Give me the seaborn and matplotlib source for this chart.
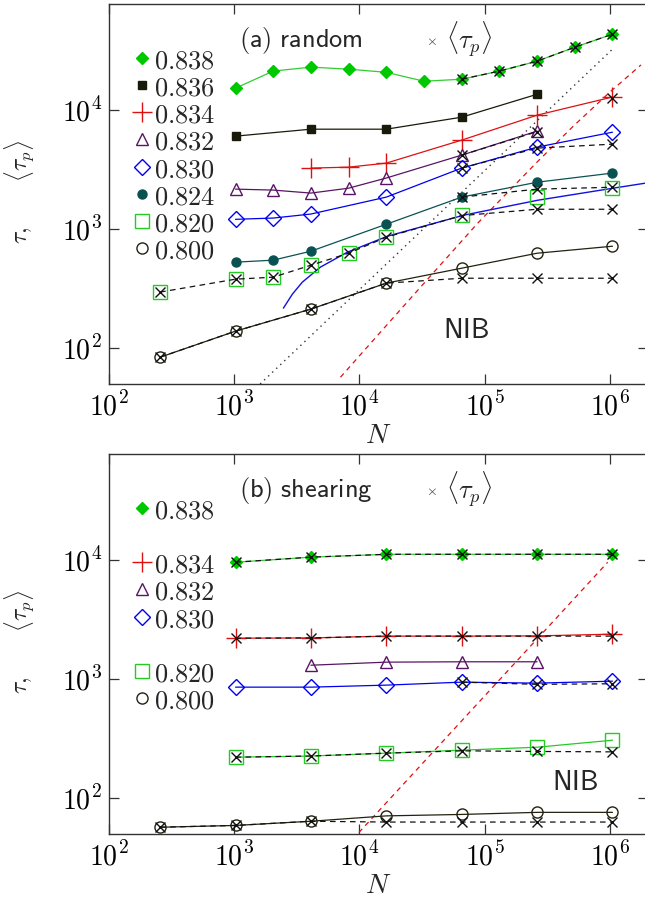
import numpy as np
import pandas as pd
import matplotlib
matplotlib.use('Agg')
import matplotlib.pyplot as plt
import seaborn as sns
from matplotlib.lines import Line2D
from matplotlib.ticker import LogLocator, NullLocator, FuncFormatter

sns.set_style('ticks')
plt.rcParams['mathtext.fontset'] = 'cm'
plt.rcParams['font.family'] = ['DejaVu Sans']

# ---------------- panel (a): random ----------------
a838_N = [1024, 2048, 4096, 8192, 16384, 32768, 65536, 131072, 262144, 524288, 1048576]
a838_t = [15300, 21300, 23000, 22100, 20800, 17500, 18200, 21300, 25800, 33800, 43500]
a838_pN = [65536, 131072, 262144, 524288, 1048576]
a838_p = [18200, 21300, 25800, 33800, 43500]

a836_N = [1024, 4096, 16384, 65536, 262144]
a836_t = [6050, 6920, 6920, 8730, 13600]

a834_N = [4096, 8192, 16384, 65536, 262144, 1048576]
a834_t = [3260, 3320, 3590, 5600, 9080, 12900]
a834_pN = [1048576]
a834_p = [12700]

a832_N = [1024, 2048, 4096, 8192, 16384, 65536, 262144]
a832_t = [2170, 2130, 2010, 2210, 2690, 4190, 6670]
a832_pN = [65536, 262144]
a832_p = [4190, 6600]

a830_N = [1024, 2048, 4096, 16384, 65536, 262144, 1048576]
a830_t = [1210, 1240, 1340, 1860, 3260, 4890, 6530]
a830_pN = [65536, 262144, 1048576]
a830_p = [3260, 4800, 5180]

a824_N = [1024, 2048, 4096, 16384, 65536, 262144, 1048576]
a824_t = [528, 549, 653, 1100, 1860, 2480, 2960]
a824_pN = [65536, 262144, 1048576]
a824_p = [1860, 2170, 2250]

a820_N = [256, 1024, 2048, 4096, 8192, 16384, 65536, 262144, 1048576]
a820_t = [296, 380, 395, 498, 628, 857, 1310, 1860, 2210]
a820_pN = [256, 1024, 2048, 4096, 8192, 16384, 65536, 262144, 1048576]
a820_p = [296, 380, 395, 498, 628, 857, 1300, 1470, 1470]

a800_N = [256, 1024, 4096, 16384, 65536, 262144, 1048576]
a800_t = [84, 139, 213, 352, 470, 628, 719]
a800_p = [84, 139, 213, 352, 387, 387, 387]

fit_N = [2470, 2910, 3500, 4880, 8020, 16750, 67900, 265000, 1060000, 1940000]
fit_t = [217, 284, 359, 480, 641, 873, 1310, 1750, 2210, 2440]

dot_N = [1610, 1050000]
dot_t = [50, 32600]

reda_N = [7050, 16750, 30760, 87900, 265500, 515000, 1019000, 1770000]
reda_t = [57, 159, 326, 1122, 3715, 7410, 14450, 23990]

# ---------------- panel (b): shearing ----------------
b_N6 = [1024, 4096, 16384, 65536, 262144, 1048576]
b838_t = [9610, 10600, 11200, 11200, 11200, 11200]
b838_p = [9610, 10600, 11200, 11200, 11200, 11200]

b834_t = [2210, 2220, 2300, 2300, 2310, 2390]
b834_p = [2210, 2220, 2300, 2300, 2300, 2300]

b832_N = [4096, 16384, 65536, 262144]
b832_t = [1310, 1390, 1400, 1400]

b830_t = [857, 857, 891, 944, 926, 962]
b830_pN = [65536, 262144, 1048576]
b830_p = [944, 905, 915]

b820_t = [221, 226, 239, 253, 268, 307]
b820_p = [221, 226, 239, 250, 247, 245]

b800_N = [256, 1024, 4096, 16384, 65536, 262144, 1048576]
b800_t = [57, 59, 64, 71, 73, 76, 76]
b800_p = [57, 59, 64, 63, 63, 63, 63]

redb_N = [8800, 960000]
redb_t = [45, 9600]

labels_a = ['0.838', '0.836', '0.834', '0.832', '0.830', '0.824', '0.820', '0.800']
labels_b = ['0.838', '', '0.834', '0.832', '0.830', '', '0.820', '0.800']

# styles: color, marker, size, filled
STY = {
    '0.838': ('#00c800', 'D', 6.2, True),
    '0.836': ('#1a1a0a', 's', 5.8, True),
    '0.834': ('#dd1111', '+', 14, False),
    '0.832': ('#5a1466', '^', 9, False),
    '0.830': ('#0000f0', 'D', 8.5, False),
    '0.824': ('#0a5252', 'o', 6.5, True),
    '0.820': ('#22cc22', 's', 10, False),
    '0.800': ('#22220f', 'o', 8, False),
}
LINECOL = {'0.838': '#33cc33', '0.820': '#22cc22'}

DASH = (0, (4.5, 3.5))


def series(ax, N, t, key, line=True, z=3):
    col, mk, ms, filled = STY[key]
    sns.lineplot(x=N, y=t, ax=ax, color=LINECOL.get(key, col), marker=mk, markersize=ms,
                 markerfacecolor=col if filled else 'none', markeredgecolor=col,
                 markeredgewidth=1.0, linestyle='-' if line else 'none', linewidth=0.9,
                 legend=False, estimator=None, errorbar=None, zorder=z)


def crosses(ax, N, t):
    sns.lineplot(x=N, y=t, ax=ax, color='#111111', marker='x', markersize=7,
                 markeredgecolor='#111111', markeredgewidth=1.0, linestyle=DASH,
                 linewidth=0.9, legend=False, estimator=None, errorbar=None, zorder=5)


def guide(ax, N, t, color, ls, lw=0.9):
    sns.lineplot(x=N, y=t, ax=ax, color=color, linestyle=ls, linewidth=lw,
                 legend=False, estimator=None, errorbar=None, zorder=2)


fig = plt.figure(figsize=(6.45, 8.98), dpi=100)
W = (647.6 - 109) / 645
ax_a = fig.add_axes([109 / 645, 1 - 384 / 898, W, 380 / 898])
ax_b = fig.add_axes([109 / 645, 1 - 834 / 898, W, 380 / 898])

for ax in (ax_a, ax_b):
    ax.set_xscale('log')
    ax.set_yscale('log')

# panel a
guide(ax_a, dot_N, dot_t, '#333333', (0, (1, 3)), 1.0)
guide(ax_a, reda_N, reda_t, '#e01010', (0, (4, 3.5)), 0.9)
guide(ax_a, fit_N, fit_t, '#1010e0', '-', 1.0)
series(ax_a, a838_N, a838_t, '0.838')
series(ax_a, a836_N, a836_t, '0.836')
series(ax_a, a834_N, a834_t, '0.834')
series(ax_a, a832_N, a832_t, '0.832')
series(ax_a, a830_N, a830_t, '0.830')
series(ax_a, a824_N, a824_t, '0.824')
series(ax_a, a820_N, a820_t, '0.820', line=False)
series(ax_a, a800_N, a800_t, '0.800')
crosses(ax_a, a838_pN, a838_p)
crosses(ax_a, a834_pN, a834_p)
crosses(ax_a, a832_pN, a832_p)
crosses(ax_a, a830_pN, a830_p)
crosses(ax_a, a824_pN, a824_p)
crosses(ax_a, a820_pN, a820_p)
crosses(ax_a, a800_N, a800_p)

# panel b
guide(ax_b, redb_N, redb_t, '#e01010', (0, (4, 3.5)), 0.9)
series(ax_b, b_N6, b838_t, '0.838')
series(ax_b, b_N6, b834_t, '0.834')
series(ax_b, b832_N, b832_t, '0.832')
series(ax_b, b_N6, b830_t, '0.830')
series(ax_b, b_N6, b820_t, '0.820')
series(ax_b, b800_N, b800_t, '0.800')
crosses(ax_b, b_N6, b838_p)
crosses(ax_b, b_N6, b834_p)
crosses(ax_b, b830_pN, b830_p)
crosses(ax_b, b_N6, b820_p)
crosses(ax_b, b800_N, b800_p)

fmt = FuncFormatter(lambda v, p: r'$\mathsf{10^{%d}}$' % int(round(np.log10(v))))


def handle(key):
    if not key:
        return Line2D([], [], linestyle='none', marker=None)
    col, mk, ms, filled = STY[key]
    return Line2D([], [], linestyle='none', marker=mk, markersize=ms, color=col,
                  markerfacecolor=col if filled else 'none', markeredgecolor=col,
                  markeredgewidth=1.0)


for ax, labels, title, nib in ((ax_a, labels_a, 'random', (0.663, 0.142)),
                               (ax_b, labels_b, 'shearing', (0.865, 0.137))):
    ax.set_xlim(100, 2e6)
    ax.set_ylim(50, 78000)
    ax.xaxis.set_major_locator(LogLocator(base=10, numticks=10))
    ax.yaxis.set_major_locator(LogLocator(base=10, numticks=10))
    ax.xaxis.set_minor_locator(NullLocator())
    ax.yaxis.set_minor_locator(NullLocator())
    ax.xaxis.set_major_formatter(fmt)
    ax.yaxis.set_major_formatter(fmt)
    ax.tick_params(axis='both', which='major', direction='in', length=7, width=0.9,
                   top=True, right=True, labelsize=20, color='#333333', labelcolor='black')
    ax.tick_params(axis='x', pad=6)
    ax.tick_params(axis='y', pad=5)
    for s in ax.spines.values():
        s.set_color('#333333')
        s.set_linewidth(1.0)
    ax.set_xlabel(r'$N$', fontsize=20)
    ax.xaxis.set_label_coords(0.5, -0.097)
    ax.set_ylabel(r'$\tau,\qquad\langle\tau_p\rangle$', fontsize=17)
    ax.yaxis.set_label_coords(-0.134, 0.505)
    letter = '(a)' if ax is ax_a else '(b)'
    ax.text(0.241, 0.905, r'$\mathsf{%s\ %s}$' % (letter, title), transform=ax.transAxes,
            fontsize=19, ha='left', va='center')
    ax.text(0.598, 0.903, r'$\times$', transform=ax.transAxes, fontsize=10,
            ha='center', va='center')
    ax.text(0.625, 0.905, r'$\langle\tau_p\rangle$', transform=ax.transAxes, fontsize=19,
            ha='left', va='center')
    ax.text(nib[0], nib[1], r'$\mathsf{NIB}$', transform=ax.transAxes, fontsize=20,
            ha='center', va='center')
    hs = [handle(k) for k in labels]
    labs = [('$%s$' % k) if k else '' for k in labels]
    ax.legend(hs, labs, loc='upper left', bbox_to_anchor=(0.047, 0.887), frameon=False,
              fontsize=19, handlelength=0.6, handletextpad=0.15, handleheight=1.05,
              labelspacing=0.0, borderpad=0, borderaxespad=0)

fig.savefig('out.png', dpi=100)
